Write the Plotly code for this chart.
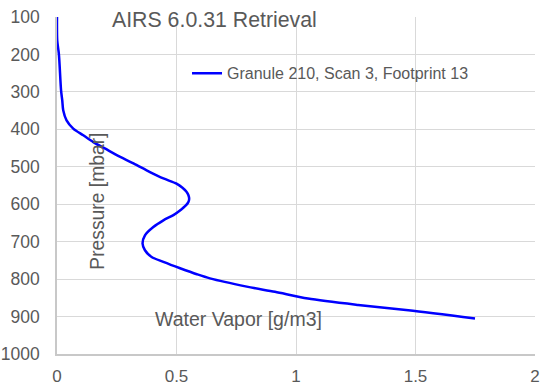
import plotly.graph_objects as go

water_vapor = [0.0, 0.001, 0.008, 0.017, 0.022, 0.026, 0.040, 0.068, 0.110, 0.152, 0.20,
               0.25, 0.32, 0.389, 0.445, 0.50, 0.525, 0.541, 0.550, 0.553, 0.549, 0.538,
               0.520, 0.487, 0.445, 0.403, 0.368, 0.358, 0.368, 0.396, 0.445, 0.515,
               0.585, 0.64, 0.794, 0.912, 1.05, 1.26, 1.47, 1.749]
pressure = [100, 163, 200, 296, 323, 349, 376, 398, 416, 434, 451,
            469, 491, 514, 531, 545, 556, 566, 576, 586, 595, 604,
            614, 629, 643, 661, 683, 705, 723, 741, 754, 771,
            787, 798, 820, 834, 852, 869, 883, 905]

series_name = "Granule 210, Scan 3, Footprint 13"
x_ticks = [0, 0.5, 1, 1.5, 2]
x_tick_labels = ["0", "0.5", "1", "1.5", "2"]
y_ticks = [100, 200, 300, 400, 500, 600, 700, 800, 900, 1000]

grey = "#595959"
font = "Liberation Sans, Arial, sans-serif"

fig = go.Figure()
fig.add_trace(go.Scatter(x=water_vapor, y=pressure, mode="lines", name=series_name,
                         line=dict(color="#0000ff", width=2.5, shape="spline", smoothing=0.8)))

fig.update_layout(
    width=550, height=388,
    margin=dict(l=57, r=15, t=16.5, b=34, autoexpand=False),
    paper_bgcolor="white", plot_bgcolor="white",
    font=dict(family=font, color=grey, size=17),
    showlegend=True,
    legend=dict(x=0.272, y=0.833, xanchor="left", yanchor="middle",
                bgcolor="rgba(0,0,0,0)", font=dict(size=16, color=grey)),
    xaxis=dict(range=[0, 2], tickvals=x_ticks, ticktext=x_tick_labels,
               showgrid=True, gridcolor="#d9d9d9", gridwidth=1,
               showline=True, linecolor="#c8c8c8", linewidth=1.5,
               zeroline=False, ticks="", automargin=False, ticklabelstandoff=6,
               tickfont=dict(size=17, color=grey)),
    yaxis=dict(range=[1000, 100], tickvals=y_ticks,
               showgrid=True, gridcolor="#d9d9d9", gridwidth=1,
               showline=True, linecolor="#c8c8c8", linewidth=1.5,
               zeroline=False, ticks="", automargin=False, ticklabelstandoff=12,
               tickfont=dict(size=17.5, color=grey)),
    annotations=[
        dict(text="AIRS 6.0.31 Retrieval", x=(110 - 57) / 478, y=1 - (20 - 16.5) / 337.5,
             xref="paper", yref="paper",
             xanchor="left", yanchor="middle", showarrow=False,
             font=dict(size=21.3, color=grey)),
        dict(text="Pressure [mbar]", x=(98 - 57) / 478, y=1 - (201.5 - 16.5) / 337.5,
             xref="paper", yref="paper",
             xanchor="center", yanchor="middle", textangle=-90, showarrow=False,
             font=dict(size=19.3, color=grey)),
        dict(text="Water Vapor [g/m3]", x=(153 - 57) / 478, y=1 - (319 - 16.5) / 337.5,
             xref="paper", yref="paper",
             xanchor="left", yanchor="middle", showarrow=False,
             font=dict(size=19.5, color=grey)),
    ],
)

fig.write_html("out.html", config={"displayModeBar": False},
               post_script="document.body.style.margin='0px';")
